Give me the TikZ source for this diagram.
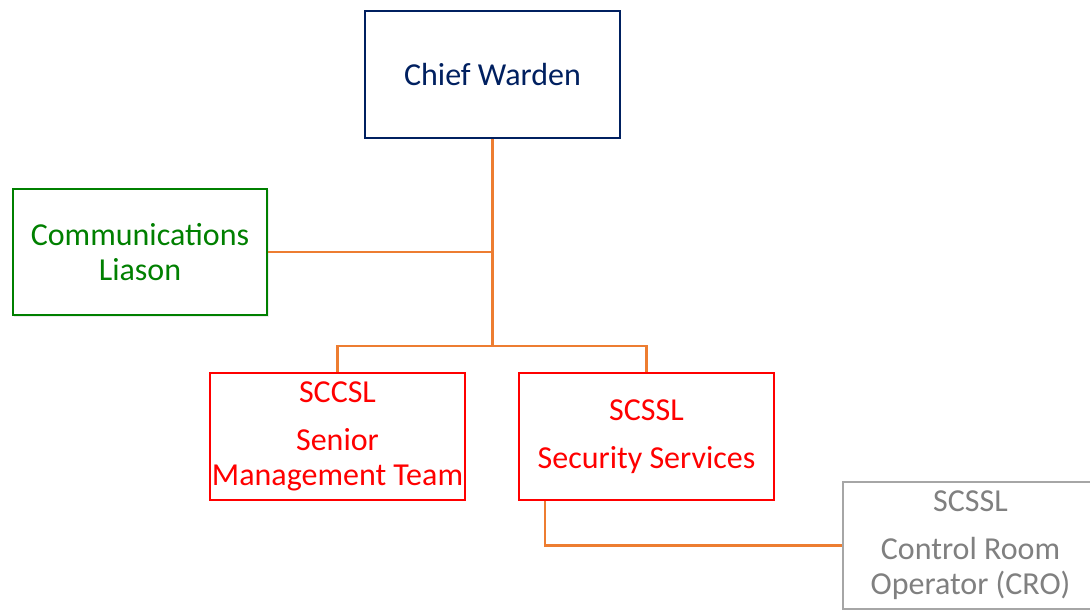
\documentclass[tikz,border=0pt]{standalone}
\usepackage{fontspec}
\setmainfont{Carlito}
\usetikzlibrary{positioning}
\usetikzlibrary{shadows}

\definecolor{wardenblue}{RGB}{0,32,96}
\definecolor{liasongreen}{RGB}{0,128,0}
\definecolor{leadred}{RGB}{255,0,0}
\definecolor{crogray}{RGB}{128,128,128}
\definecolor{crobox}{RGB}{166,166,166}
\definecolor{linkorange}{RGB}{237,125,49}

\tikzset{
        rolebox/.style={rectangle, align=center, inner sep=1pt, fill=white, line width=1.4pt,
                minimum width=191pt, minimum height=95pt,
                font=\fontsize{24}{26}\selectfont,
                drop shadow={shadow xshift=1.2pt, shadow yshift=-1.2pt, opacity=0.15}},
        % Top of the chain
        role_chief/.style={rolebox, draw=wardenblue, text=wardenblue},
        % Side role
        role_liason/.style={rolebox, draw=liasongreen, text=liasongreen},
        % Team leads
        role_lead/.style={rolebox, draw=leadred, text=leadred},
        % Operators
        role_operator/.style={rolebox, draw=crobox, text=crogray},
        % Reporting lines
        link/.style={draw=linkorange, line width=1.7pt}
}

\begin{document}
\begin{tikzpicture}[x=0.75pt, y=-0.75pt]
        \useasboundingbox (0,0) rectangle (1090,610);
        \clip (0,0) rectangle (1090,610);

        % reporting lines
        \coordinate (split) at (492.5,346);
        \coordinate (leadbase) at (545,500);

        \node[role_chief] (chief) at (492.5,74.5) {Chief Warden};
        \node[role_liason] (comms) at (140,252) {Communications\\Liason};
        \node[role_lead] (sccsl) at (337.5,436.5) {SCCSL\\[10pt]Senior\\Management Team};
        \node[role_lead] (scssl) at (646.5,436.5) {SCSSL\\[10pt]Security Services};
        \node[role_operator] (cro) at (970.5,545.5) {SCSSL\\[10pt]Control Room\\Operator (CRO)};

        \draw[link] (chief.south) -- (split);
        \draw[link] (comms.east) -- (comms.east -| chief.south);
        \draw[link] (split) -| (sccsl.north);
        \draw[link] (split) -| (scssl.north);
        \draw[link] (scssl.south -| leadbase) |- (cro.west);
\end{tikzpicture}
\end{document}
